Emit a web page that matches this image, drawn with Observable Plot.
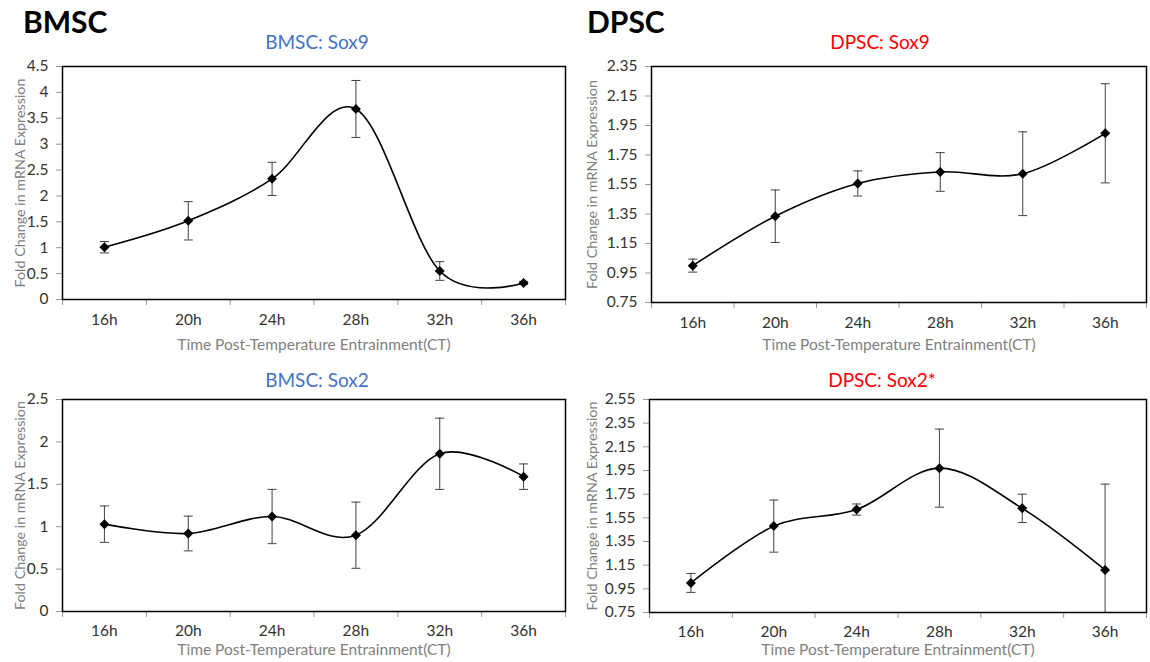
<!DOCTYPE html>
<html>
<head>
<meta charset="utf-8">
<script src="https://cdn.jsdelivr.net/npm/d3@7"></script>
<script src="https://cdn.jsdelivr.net/npm/@observablehq/plot@0.6"></script>
<style>
  body { margin: 0; background: #fff; }
  #root { position: relative; width: 1150px; height: 662px; background: #fff; font-family: Lato, "Open Sans", sans-serif; overflow: hidden; }
  .big { position: absolute; font-weight: 700; font-size: 30px; line-height: 30px; color: #000; }
  .sub { position: absolute; font-size: 19px; line-height: 22px; transform: translateX(-50%); white-space: nowrap; }
  .panel { position: absolute; }
</style>
</head>
<body>
<div id="root">
  <div class="big" style="left:23px;top:6px">BMSC</div>
  <div class="big" style="left:587px;top:6px">DPSC</div>
  <div class="sub" style="left:317px;top:31px;color:#4472C4">BMSC: Sox9</div>
  <div class="sub" style="left:880px;top:31px;color:#FF0000">DPSC: Sox9</div>
  <div class="sub" style="left:317px;top:369px;color:#4472C4">BMSC: Sox2</div>
  <div class="sub" style="left:882px;top:369px;color:#FF0000">DPSC: Sox2*</div>
  <div class="panel" id="p1" style="left:0px;top:56px"></div>
  <div class="panel" id="p2" style="left:575px;top:56px"></div>
  <div class="panel" id="p3" style="left:0px;top:389px"></div>
  <div class="panel" id="p4" style="left:575px;top:389px"></div>
</div>
<script>
const categories = ["16h", "20h", "24h", "28h", "32h", "36h"];

const bmscSox9 = [1.01, 1.52, 2.33, 3.68, 0.55, 0.32];
const bmscSox9Err = [0.11, 0.37, 0.32, 0.55, 0.18, 0.03];
const bmscSox9Ticks = [0, 0.5, 1, 1.5, 2, 2.5, 3, 3.5, 4, 4.5];

const dpscSox9 = [1.00, 1.335, 1.557, 1.635, 1.623, 1.897];
const dpscSox9Err = [0.044, 0.178, 0.085, 0.131, 0.284, 0.336];
const dpscSox9Ticks = [0.75, 0.95, 1.15, 1.35, 1.55, 1.75, 1.95, 2.15, 2.35];

const bmscSox2 = [1.03, 0.92, 1.12, 0.90, 1.86, 1.59];
const bmscSox2Err = [0.215, 0.205, 0.32, 0.39, 0.42, 0.15];
const bmscSox2Ticks = [0, 0.5, 1, 1.5, 2, 2.5];

const dpscSox2 = [1.00, 1.48, 1.62, 1.97, 1.63, 1.11];
const dpscSox2Err = [0.08, 0.22, 0.047, 0.33, 0.12, 0.725];
const dpscSox2Ticks = [0.75, 0.95, 1.15, 1.35, 1.55, 1.75, 1.95, 2.15, 2.35, 2.55];

const yLabel = "Fold Change in mRNA Expression";
const xLabel = "Time Post-Temperature Entrainment(CT)";

const capSymbol = {
  draw(ctx, size) {
    const r = Math.sqrt(size / Math.PI);
    ctx.moveTo(-r, 0);
    ctx.lineTo(r, 0);
  }
};
const rhombus = {
  draw(ctx, size) {
    const r = Math.sqrt(size / Math.PI);
    ctx.moveTo(0, -r);
    ctx.lineTo(r, 0);
    ctx.lineTo(0, r);
    ctx.lineTo(-r, 0);
    ctx.closePath();
  }
};

function panel(values, errs, yTicks, m) {
  const data = categories.map((c, i) => ({
    pos: i + 0.5, cat: c, v: values[i], lo: values[i] - errs[i], hi: values[i] + errs[i]
  }));
  return Plot.plot({
    width: 575,
    height: m.height,
    marginLeft: m.left,
    marginRight: m.right,
    marginTop: m.top,
    marginBottom: m.bottom,
    style: { fontFamily: "Lato, 'Open Sans', sans-serif", fontSize: "14px", color: "#333", background: "transparent", overflow: "visible" },
    x: { type: "linear", domain: [0, categories.length] },
    y: { domain: [yTicks[0], yTicks[yTicks.length - 1]] },
    marks: [
      Plot.axisX({ ticks: d3.range(categories.length + 1), tickSize: 6, tickFormat: () => "", stroke: "#999", label: null }),
      Plot.axisX({ ticks: data.map(d => d.pos), tickFormat: d => categories[Math.floor(d)], tickSize: 0, tickPadding: m.tickPad, fill: "#333", label: null, fontSize: 15.5 }),
      Plot.axisY({ ticks: yTicks, tickSize: 6, tickPadding: 8, tickFormat: d => String(d), stroke: "#999", fill: "#333", label: null, fontSize: 15.5 }),
      Plot.text([yLabel], { frameAnchor: "left", textAnchor: "middle", rotate: -90, dx: -m.ylab, fill: "#7f7f7f", fontSize: 14.3 }),
      Plot.text([xLabel], { frameAnchor: "bottom", textAnchor: "middle", lineAnchor: "middle", dy: m.xlab, fill: "#7f7f7f", fontSize: 15.5 }),
      Plot.ruleX(data, { x: "pos", y1: "lo", y2: "hi", stroke: "#404040", strokeWidth: 1, clip: true }),
      Plot.dot(data, { x: "pos", y: "hi", symbol: capSymbol, r: 4.5, stroke: "#404040", fill: "none", strokeWidth: 1, clip: true }),
      Plot.dot(data, { x: "pos", y: "lo", symbol: capSymbol, r: 4.5, stroke: "#404040", fill: "none", strokeWidth: 1, clip: true }),
      Plot.line(data, { x: "pos", y: "v", curve: "cardinal", tension: 0, stroke: "#000", strokeWidth: 1.6 }),
      Plot.dot(data, { x: "pos", y: "v", symbol: rhombus, r: 5, fill: "#000", stroke: "none" }),
      Plot.frame({ stroke: "#000", strokeWidth: 1.5 })
    ]
  });
}

document.getElementById("p1").append(panel(bmscSox9, bmscSox9Err, bmscSox9Ticks,
  { height: 304, left: 62, right: 10, top: 10, bottom: 61, tickPad: 14, xlab: 46, ylab: 42 }));
document.getElementById("p2").append(panel(dpscSox9, dpscSox9Err, dpscSox9Ticks,
  { height: 304, left: 76, right: 4, top: 10, bottom: 58, tickPad: 14, xlab: 43, ylab: 59 }));
document.getElementById("p3").append(panel(bmscSox2, bmscSox2Err, bmscSox2Ticks,
  { height: 273, left: 62, right: 10, top: 10, bottom: 51, tickPad: 13, xlab: 39, ylab: 42 }));
document.getElementById("p4").append(panel(dpscSox2, dpscSox2Err, dpscSox2Ticks,
  { height: 273, left: 74, right: 4, top: 10, bottom: 50, tickPad: 13, xlab: 38, ylab: 57 }));
</script>
</body>
</html>
